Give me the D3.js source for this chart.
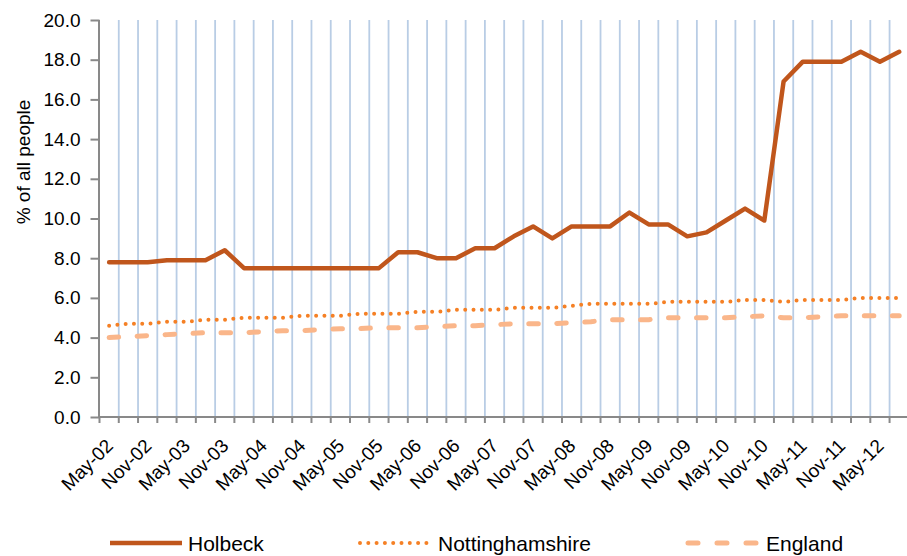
<!DOCTYPE html>
<html lang="en">
<head>
<meta charset="UTF-8">
<title>Holbeck - % of all people</title>
<style>
    body { margin: 0; background: #fff; }
    svg { display: block; font-family: "Liberation Sans", Arial, sans-serif; }
    .grid line { stroke: #b9cde5; stroke-width: 1.8px; }
    .axis-line { stroke: #898989; stroke-width: 2px; }
    .tick-label { font-size: 19px; fill: #000; }
    .legend-text { font-size: 21px; fill: #000; }
</style>
</head>
<body>
<svg id="chart" width="907" height="556"></svg>
<script src="https://d3js.org/d3.v7.min.js"></script>
<script>
// quarterly categories, May-02 .. Aug-12
const categories = [
    "May-02", "Aug-02", "Nov-02",
    "Feb-03", "May-03", "Aug-03", "Nov-03",
    "Feb-04", "May-04", "Aug-04", "Nov-04",
    "Feb-05", "May-05", "Aug-05", "Nov-05",
    "Feb-06", "May-06", "Aug-06", "Nov-06",
    "Feb-07", "May-07", "Aug-07", "Nov-07",
    "Feb-08", "May-08", "Aug-08", "Nov-08",
    "Feb-09", "May-09", "Aug-09", "Nov-09",
    "Feb-10", "May-10", "Aug-10", "Nov-10",
    "Feb-11", "May-11", "Aug-11", "Nov-11",
    "Feb-12", "May-12", "Aug-12"
];
// only every other quarter gets a label
const xTickLabels = [
    "May-02", "Nov-02", "May-03", "Nov-03", "May-04", "Nov-04", "May-05",
    "Nov-05", "May-06", "Nov-06", "May-07", "Nov-07", "May-08", "Nov-08",
    "May-09", "Nov-09", "May-10", "Nov-10", "May-11", "Nov-11", "May-12"
];
const yTicks = [0, 2, 4, 6, 8, 10, 12, 14, 16, 18, 20];

const holbeck = [
    7.8, 7.8, 7.8, 7.9, 7.9, 7.9, 8.4, 7.5, 7.5, 7.5, 7.5, 7.5, 7.5, 7.5,
    7.5, 8.3, 8.3, 8.0, 8.0, 8.5, 8.5, 9.1, 9.6, 9.0, 9.6, 9.6, 9.6, 10.3,
    9.7, 9.7, 9.1, 9.3, 9.9, 10.5, 9.9, 16.9, 17.9, 17.9, 17.9, 18.4, 17.9, 18.4
];
const nottinghamshire = [
    4.6, 4.7, 4.7, 4.8, 4.8, 4.9, 4.9, 5.0, 5.0, 5.0, 5.1, 5.1, 5.1, 5.2,
    5.2, 5.2, 5.3, 5.3, 5.4, 5.4, 5.4, 5.5, 5.5, 5.5, 5.6, 5.7, 5.7, 5.7,
    5.7, 5.8, 5.8, 5.8, 5.8, 5.9, 5.9, 5.8, 5.9, 5.9, 5.9, 6.0, 6.0, 6.0
];
const england = [
    4.0, 4.05, 4.1, 4.15, 4.2, 4.25, 4.25, 4.25, 4.3, 4.35, 4.35, 4.4, 4.45, 4.45,
    4.5, 4.5, 4.5, 4.55, 4.6, 4.6, 4.65, 4.7, 4.7, 4.7, 4.75, 4.8, 4.9, 4.9,
    4.9, 5.0, 5.0, 5.0, 5.0, 5.05, 5.1, 5.0, 5.0, 5.05, 5.1, 5.1, 5.1, 5.1
];

const series = [
    { name: "Holbeck", values: holbeck, color: "#c0561c", width: 4.5, dash: null, legendX: 110 },
    { name: "Nottinghamshire", values: nottinghamshire, color: "#f58025", width: 4, dash: "0,8.3", legendX: 360 },
    { name: "England", values: england, color: "#fab68a", width: 5, dash: "9.5,18.5", legendX: 688 }
];

const svg = d3.select("#chart");
const plotLeft = 99.5, plotTop = 20, plotBottom = 417;
const bandW = 19.27;

const x = d3.scaleBand()
    .domain(categories)
    .range([plotLeft, plotLeft + categories.length * bandW]);
const y = d3.scaleLinear()
    .domain([0, 20])
    .range([plotBottom, plotTop]);
const cx = c => x(c) + x.bandwidth() / 2;

// vertical gridlines on the category boundaries
svg.append("g").attr("class", "grid")
    .selectAll("line")
    .data(categories.slice(1))
    .enter().append("line")
    .attr("x1", d => x(d)).attr("x2", d => x(d))
    .attr("y1", y(0)).attr("y2", y(20));

// y axis
const yAxis = svg.append("g")
    .attr("transform", `translate(${plotLeft},0)`)
    .call(d3.axisLeft(y).tickValues(yTicks).tickFormat(d3.format(".1f")).tickSize(9).tickPadding(10));
yAxis.select(".domain").attr("class", "axis-line").attr("d", `M-0.5,${y(20)}V${y(0)}`);
yAxis.selectAll(".tick line").attr("stroke", "#898989").attr("stroke-width", 2);
yAxis.selectAll(".tick text").attr("class", "tick-label");

// x axis: line, boundary ticks, rotated labels
svg.append("line").attr("class", "axis-line")
    .attr("x1", plotLeft - 1).attr("x2", x.range()[1])
    .attr("y1", y(0)).attr("y2", y(0));
svg.append("g")
    .selectAll("line")
    .data(categories.map(c => x(c)).concat([x.range()[1]]))
    .enter().append("line")
    .attr("x1", d => d).attr("x2", d => d)
    .attr("y1", y(0)).attr("y2", y(0) + 6)
    .attr("stroke", "#898989").attr("stroke-width", 2);
svg.append("g")
    .selectAll("text")
    .data(xTickLabels)
    .enter().append("text")
    .attr("class", "tick-label")
    .attr("text-anchor", "end")
    .attr("transform", d => `translate(${cx(d) + 5},${plotBottom + 30}) rotate(-45)`)
    .text(d => d);

// y axis title
svg.append("text")
    .attr("class", "tick-label")
    .attr("text-anchor", "middle")
    .attr("transform", "translate(30,162) rotate(-90)")
    .text("% of all people");

// series lines, drawn back to front
const line = d3.line()
    .x((d, i) => cx(categories[i]))
    .y(d => y(d));

series.slice().reverse().forEach(s => {
    svg.append("path")
        .datum(s.values)
        .attr("d", line)
        .attr("fill", "none")
        .attr("stroke", s.color)
        .attr("stroke-width", s.width)
        .attr("stroke-linecap", "round")
        .attr("stroke-linejoin", "round")
        .attr("stroke-dasharray", s.dash);
});

// legend
const legend = svg.append("g");
series.forEach(s => {
    legend.append("line")
        .attr("x1", s.legendX).attr("x2", s.legendX + 72)
        .attr("y1", 543).attr("y2", 543)
        .attr("stroke", s.color)
        .attr("stroke-width", s.width)
        .attr("stroke-linecap", s.dash ? "round" : "butt")
        .attr("stroke-dasharray", s.name === "England" ? "10,19" : s.dash);
    legend.append("text")
        .attr("class", "legend-text")
        .attr("x", s.legendX + 78)
        .attr("y", 551)
        .text(s.name);
});
</script>
</body>
</html>
